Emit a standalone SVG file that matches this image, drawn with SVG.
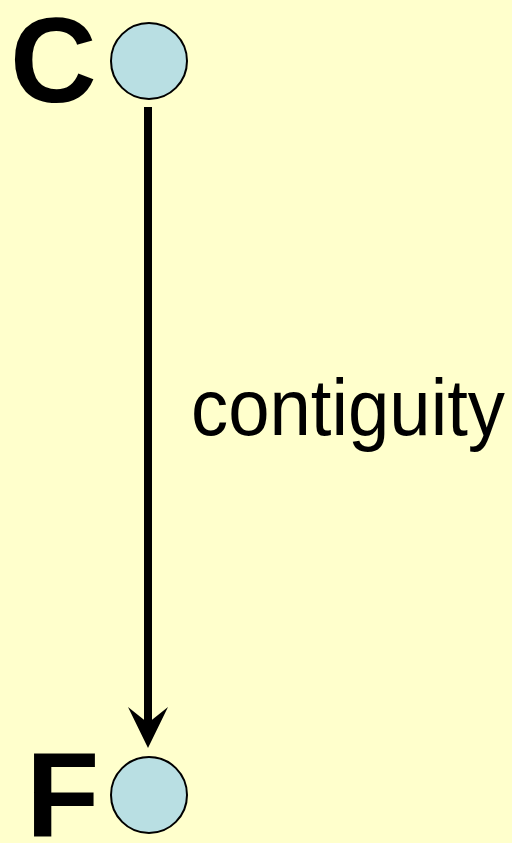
<svg xmlns="http://www.w3.org/2000/svg" width="512" height="843" viewBox="0 0 512 843">
<style>
.node{fill:#B9DFE3;stroke:#000;stroke-width:2}
.big{font-family:"Liberation Sans",Arial,sans-serif;font-weight:bold;font-size:120px;fill:#000}
.lbl{font-family:"Liberation Sans",Arial,sans-serif;font-size:80px;fill:#000}
</style>
<rect width="512" height="843" fill="#FFFFCC"/>
<g id="connectors">
<line x1="148" y1="107" x2="148" y2="726" stroke="#000" stroke-width="8"/>
<path d="M148,748 L128,707 L148,723 L168,707 Z" fill="#000"/>
<text class="lbl" x="191" y="435" textLength="314" lengthAdjust="spacingAndGlyphs">contiguity</text>
</g>
<g id="node-C">
<circle class="node" cx="149" cy="61" r="38"/>
<text class="big" x="10" y="102">C</text>
</g>
<g id="node-F">
<circle class="node" cx="149" cy="795" r="38"/>
<text class="big" x="26" y="836">F</text>
</g>
</svg>
